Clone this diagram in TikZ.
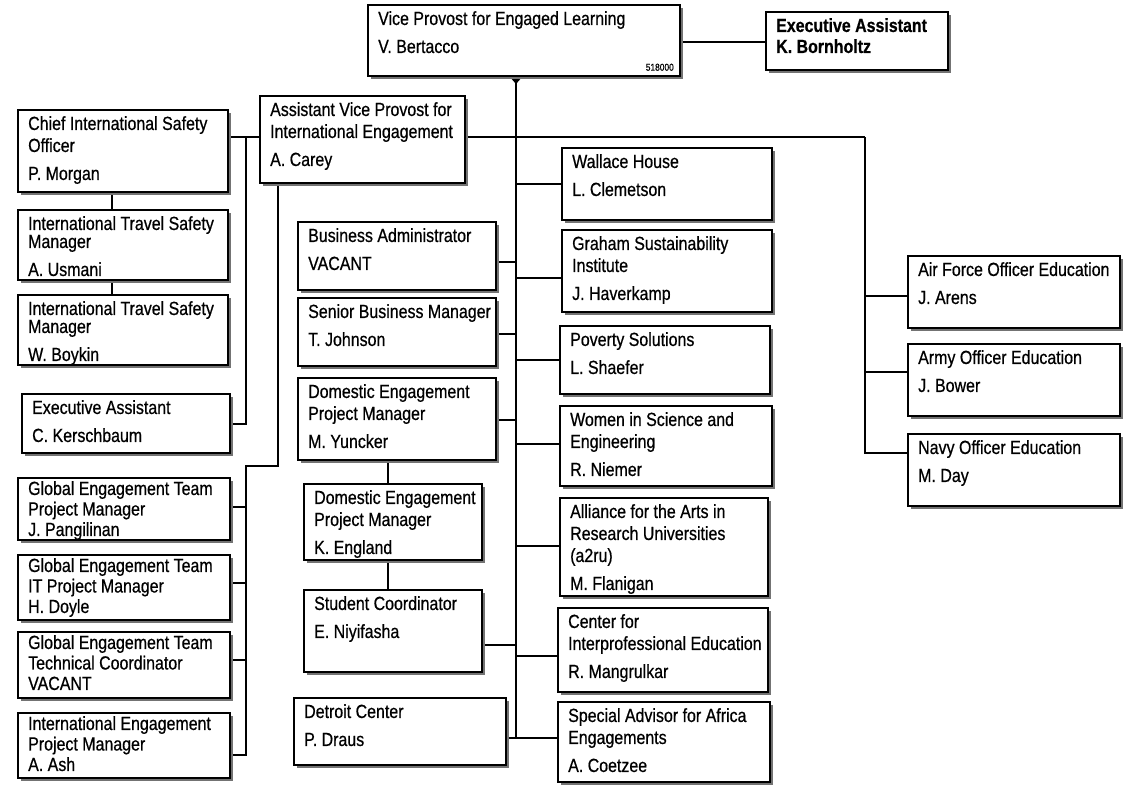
\documentclass[tikz,border=0pt]{standalone}
\usepackage{fontspec}
\setmainfont[FakeStretch=0.84,FakeBold=0.6]{Liberation Sans}
\usetikzlibrary{shadows}
\tikzset{
  box/.style={draw, line width=1.1pt, fill=white, inner sep=0, drop shadow={shadow xshift=2.5pt, shadow yshift=-2.5pt, fill=black!55, opacity=1}},
  txt/.style={anchor=north west, inner sep=0, align=left, font=\fontsize{19}{22}\selectfont},
  ln/.style={line width=1.1pt}
}
\newcommand\bx[6]{%
  \node[box, minimum width={(#4-#2)*1pt}, minimum height={(#5-#3)*1pt}] (#1) at ({(#2+#4)/2},{(#3+#5)/2}) {};
  \node[txt] (#1t) at ({#2+10},{#3+6}) {#6};}
\newcommand\bxc[6]{%
  \node[box, minimum width={(#4-#2)*1pt}, minimum height={(#5-#3)*1pt}] (#1) at ({(#2+#4)/2},{(#3+#5)/2}) {};
  \node[txt, font=\fontsize{19}{20.5}\selectfont] (#1t) at ({#2+10},{#3+3}) {#6};}
\begin{document}
\begin{tikzpicture}[x=1pt,y=-1pt]
\useasboundingbox (0,0) rectangle (1136,796);
\coordinate (tt) at (516,78);
\coordinate (tb) at (516,738);
\draw[ln] (tt) -- (tb);
\fill (509,76) -- (523,76) -- (516,84) -- cycle;
\draw[ln] (680,42) -- (766,42);
\draw[ln] (228,137) -- (865,137);
\draw[ln] (246,137) -- (246,424) -- (230,424);
\draw[ln] (865,137) -- (865,453) -- (908,453);
\draw[ln] (865,296) -- (908,296);
\draw[ln] (865,372) -- (908,372);
\draw[ln] (112,192) -- (112,295);
\draw[ln] (278,183) -- (278,466) -- (246,466) -- (246,755) -- (230,755);
\foreach \y in {507,583,660} \draw[ln] (230,\y) -- (246,\y);
\foreach \y in {262,334,420,645,738} \draw[ln] (480,\y) -- (516,\y);
\foreach \y in {184,278,360,444,546,656,738} \draw[ln] (516,\y) -- (562,\y);
\draw[ln] (388,460) -- (388,590);
\bx{vp}{368}{5}{680}{76}{Vice Provost for Engaged Learning\\[6pt]V. Bertacco}
\node[anchor=south east, inner sep=0, font=\fontsize{10}{11}\selectfont] (code) at (674,71) {518000};
\bx{ea}{766}{12}{948}{70}{\textbf{Executive Assistant}\\[-1pt]\textbf{K. Bornholtz}}
\bx{avp}{260}{96}{465}{183}{Assistant Vice Provost for\\International Engagement\\[6pt]A. Carey}
\bx{cis}{18}{110}{228}{192}{Chief International Safety\\Officer\\[6pt]P. Morgan}
\bx{its1}{18}{210}{228}{280}{International Travel Safety\\[-4pt]Manager\\[6pt]A. Usmani}
\bx{its2}{18}{295}{228}{365}{International Travel Safety\\[-4pt]Manager\\[6pt]W. Boykin}
\bx{eak}{22}{394}{230}{453}{Executive Assistant\\[6pt]C. Kerschbaum}
\bxc{ge1}{18}{478}{230}{540}{Global Engagement Team\\Project Manager\\J. Pangilinan}
\bxc{ge2}{18}{555}{230}{620}{Global Engagement Team\\IT Project Manager\\H. Doyle}
\bxc{ge3}{18}{632}{230}{698}{Global Engagement Team\\Technical Coordinator\\VACANT}
\bxc{iep}{18}{713}{230}{778}{International Engagement\\Project Manager\\A. Ash}
\bx{ba}{298}{222}{496}{290}{Business Administrator\\[6pt]VACANT}
\bx{sbm}{298}{298}{496}{366}{Senior Business Manager\\[6pt]T. Johnson}
\bx{dep1}{298}{378}{496}{460}{Domestic Engagement\\Project Manager\\[6pt]M. Yuncker}
\bx{dep2}{304}{484}{482}{560}{Domestic Engagement\\Project Manager\\[6pt]K. England}
\bx{sc}{304}{590}{482}{672}{Student Coordinator\\[6pt]E. Niyifasha}
\bx{dc}{294}{698}{506}{765}{Detroit Center\\[6pt]P. Draus}
\bx{wh}{562}{148}{772}{220}{Wallace House\\[6pt]L. Clemetson}
\bx{gs}{562}{230}{772}{312}{Graham Sustainability\\Institute\\[6pt]J. Haverkamp}
\bx{ps}{560}{326}{770}{394}{Poverty Solutions\\[6pt]L. Shaefer}
\bx{ws}{560}{406}{772}{486}{Women in Science and\\Engineering\\[6pt]R. Niemer}
\bx{aa}{560}{498}{768}{596}{Alliance for the Arts in\\Research Universities\\(a2ru)\\[6pt]M. Flanigan}
\bx{cie}{558}{608}{768}{692}{Center for\\Interprofessional Education\\[6pt]R. Mangrulkar}
\bx{sa}{558}{702}{770}{782}{Special Advisor for Africa\\Engagements\\[6pt]A. Coetzee}
\bx{af}{908}{256}{1120}{328}{Air Force Officer Education\\[6pt]J. Arens}
\bx{ar}{908}{344}{1120}{416}{Army Officer Education\\[6pt]J. Bower}
\bx{nv}{908}{434}{1120}{506}{Navy Officer Education\\[6pt]M. Day}
\end{tikzpicture}
\end{document}
